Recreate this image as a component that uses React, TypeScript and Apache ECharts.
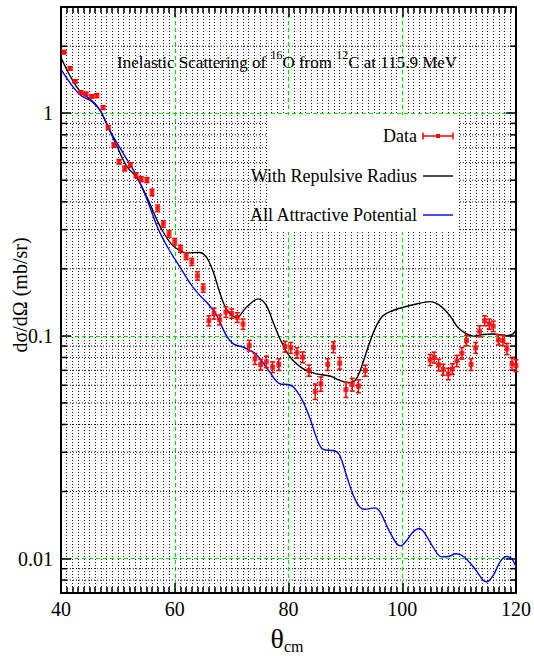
import React, { useEffect, useRef } from "react";
import * as echarts from "echarts";

// Measured cross sections (theta_cm in degrees, dσ/dΩ in mb/sr)
const dataAngle = [40.5, 41.6, 42.5, 43.5, 44.4, 45.4, 46.3, 47.4, 48.3, 49.3, 50.2, 51.2, 52.2, 53.2, 54.1, 55.1, 56.0, 57.0, 58.0, 59.0, 60.0, 61.0, 62.0, 63.0, 64.0, 65.0, 66.0, 66.9, 67.9, 69.0, 70.0, 71.0, 72.0, 73.1, 74.1, 75.1, 76.1, 77.2, 78.3, 79.4, 80.4, 81.5, 82.5, 83.6, 84.7, 85.7, 86.9, 87.9, 89.0, 90.1, 91.2, 92.3, 93.5, 104.9, 105.6, 106.4, 107.2, 108.1, 108.8, 109.6, 110.5, 111.3, 112.1, 112.9, 113.6, 114.5, 115.3, 116.0, 116.9, 117.7, 118.4, 119.3, 120.0];
const dataValue = [1.88, 1.59, 1.39, 1.24, 1.22, 1.19, 1.2, 1.06, 0.863, 0.719, 0.605, 0.565, 0.586, 0.527, 0.506, 0.501, 0.441, 0.374, 0.318, 0.287, 0.265, 0.246, 0.228, 0.215, 0.186, 0.164, 0.117, 0.126, 0.118, 0.128, 0.126, 0.121, 0.113, 0.0905, 0.0789, 0.0744, 0.0765, 0.0724, 0.0744, 0.0895, 0.0884, 0.0839, 0.0802, 0.0699, 0.0563, 0.0609, 0.0744, 0.089, 0.0754, 0.0574, 0.0605, 0.0595, 0.0699, 0.078, 0.08, 0.0741, 0.0706, 0.0675, 0.071, 0.0772, 0.0836, 0.0953, 0.0744, 0.0884, 0.105, 0.117, 0.113, 0.1105, 0.096, 0.0953, 0.0874, 0.0749, 0.0736];
const dataErr = [0.03, 0.025, 0.02, 0.02, 0.02, 0.02, 0.025, 0.02, 0.018, 0.016, 0.014, 0.014, 0.014, 0.013, 0.013, 0.013, 0.015, 0.013, 0.011, 0.01, 0.009, 0.009, 0.008, 0.008, 0.008, 0.007, 0.006, 0.007, 0.006, 0.007, 0.006, 0.006, 0.006, 0.005, 0.0045, 0.004, 0.0045, 0.004, 0.0045, 0.005, 0.005, 0.0045, 0.0045, 0.004, 0.0045, 0.0045, 0.0045, 0.005, 0.0045, 0.0045, 0.004, 0.004, 0.004, 0.0045, 0.0045, 0.0045, 0.004, 0.004, 0.004, 0.0045, 0.005, 0.005, 0.0045, 0.005, 0.006, 0.006, 0.006, 0.006, 0.005, 0.005, 0.005, 0.0045, 0.0045];

// "With Repulsive Radius" calculation
const repAngle = [40, 41.6, 43.3, 45.1, 46.3, 47.4, 48.6, 49.8, 51.5, 53.3, 55.1, 56.8, 58.0, 59.7, 62.1, 64.4, 65.6, 66.8, 67.9, 69.1, 70.9, 72.6, 74.7, 76.1, 77.3, 78.5, 79.7, 80.8, 82.6, 84.9, 87.3, 89.0, 90.5, 91.7, 92.5, 93.7, 95.2, 96.6, 98.4, 100.2, 102.5, 104.9, 106.6, 108.4, 109.8, 111.3, 112.5, 114.2, 116.0, 118.3, 119.2, 120.0];
const repValue = [1.78, 1.47, 1.26, 1.156, 1.079, 0.972, 0.833, 0.714, 0.58, 0.515, 0.42, 0.335, 0.292, 0.254, 0.236, 0.237, 0.225, 0.193, 0.157, 0.132, 0.121, 0.1345, 0.1466, 0.137, 0.115, 0.097, 0.0845, 0.0775, 0.0711, 0.0675, 0.066, 0.0631, 0.0616, 0.0631, 0.0687, 0.0845, 0.1075, 0.123, 0.13, 0.1345, 0.139, 0.1425, 0.137, 0.123, 0.109, 0.102, 0.0997, 0.1014, 0.102, 0.1003, 0.101, 0.1057];

// "All Attractive Potential" calculation
const attAngle = [40, 42.2, 43.6, 45.4, 46.9, 48.3, 49.8, 51.2, 52.1, 53.3, 55.1, 57.1, 58.6, 60.0, 61.5, 63.0, 64.4, 65.9, 67.4, 69.1, 70.3, 72.0, 73.8, 75.0, 76.7, 78.5, 80.2, 81.4, 82.6, 83.8, 85.2, 86.1, 88.2, 89.0, 90.2, 91.4, 92.5, 93.4, 95.2, 96.1, 97.5, 99.0, 99.7, 100.8, 101.9, 103.0, 104.0, 105.4, 106.9, 108.1, 109.5, 110.7, 112.5, 114.2, 114.8, 116.0, 117.2, 118.3, 119.2, 120.0];
const attValue = [1.575, 1.304, 1.196, 1.13, 1.03, 0.862, 0.739, 0.644, 0.591, 0.524, 0.411, 0.302, 0.254, 0.2215, 0.193, 0.168, 0.152, 0.139, 0.123, 0.1, 0.092, 0.089, 0.0845, 0.0789, 0.0687, 0.0609, 0.0603, 0.0568, 0.0504, 0.0424, 0.0334, 0.0309, 0.0304, 0.0291, 0.0236, 0.0192, 0.01706, 0.01664, 0.01688, 0.0162, 0.01363, 0.01168, 0.0114, 0.01208, 0.01317, 0.01363, 0.01294, 0.01128, 0.01017, 0.01021, 0.0105, 0.01024, 0.00918, 0.008, 0.00786, 0.00841, 0.00966, 0.01021, 0.01, 0.00918];

const xMin = 40;
const xMax = 120;
const xStep = 20;
const yMin = 0.007;
const yMax = 3;
const yTickLabels = ["0.01", "0.1", "1"];
const yMinorGrid = [0.008, 0.009, 0.02, 0.03, 0.04, 0.05, 0.06, 0.07, 0.08, 0.09, 0.2, 0.3, 0.4, 0.5, 0.6, 0.7, 0.8, 0.9, 2, 3];

const SERIF = "Liberation Serif";
const GREEN = "#00e000";

export default function App() {
  const ref = useRef<HTMLDivElement>(null);
  useEffect(() => {
    document.body.style.margin = "0";
    const chart = echarts.init(ref.current!, null, { renderer: "svg" });

    const xAxisBase = {
      type: "value",
      min: xMin,
      max: xMax,
      interval: xStep,
      axisLine: { show: true, onZero: false, lineStyle: { color: "#000", width: 2 } },
      axisTick: { show: true, inside: true, length: 10, lineStyle: { color: "#000", width: 1.5 } },
      minorTick: { show: true, splitNumber: 20, length: 6, lineStyle: { color: "#000", width: 1.5 } },
    };
    const yAxisBase = {
      type: "log",
      logBase: 10,
      min: yMin,
      max: yMax,
      axisLine: { show: true, onZero: false, lineStyle: { color: "#000", width: 2 } },
      axisTick: { show: true, inside: true, length: 10, lineStyle: { color: "#000", width: 1.5 } },
    };

    const txt = (text: string, x: number, y: number, size: number, align: string, extra: any = {}) => ({
      type: "text",
      z: 101,
      x,
      y,
      ...extra,
      style: { text, font: `${size}px ${SERIF}`, fill: "#000", align, verticalAlign: "middle" },
    });

    const option: any = {
      animation: false,
      backgroundColor: "#ffffff",
      textStyle: { fontFamily: SERIF },
      grid: { left: 61, top: 7, width: 455, height: 586 },
      xAxis: [
        {
          ...xAxisBase,
          position: "bottom",
          axisLabel: { color: "#000", fontFamily: SERIF, fontSize: 20, margin: 6 },
          splitLine: { show: true, showMinLine: false, showMaxLine: false, lineStyle: { color: GREEN, type: [4, 3], width: 1.2 } },
          minorSplitLine: { show: true, lineStyle: { color: "#000", type: [1, 2], width: 1, opacity: 0.9 } },
        },
        {
          ...xAxisBase,
          position: "top",
          axisLabel: { show: false },
          splitLine: { show: false },
          minorSplitLine: { show: false },
        },
      ],
      yAxis: [
        {
          ...yAxisBase,
          position: "left",
          axisLabel: {
            color: "#000",
            fontFamily: SERIF,
            fontSize: 20,
            margin: 8,
            showMinLabel: false,
            showMaxLabel: false,
            formatter: (v: number) => {
              const s = String(parseFloat(Number(v).toPrecision(6)));
              return yTickLabels.includes(s) ? s : "";
            },
          },
          splitLine: { show: true, showMinLine: false, showMaxLine: false, lineStyle: { color: GREEN, type: [4, 3], width: 1.2 } },
        },
        {
          ...yAxisBase,
          position: "right",
          axisLabel: { show: false },
          splitLine: { show: false },
        },
      ],
      series: [
        {
          type: "custom",
          name: "minorGrid",
          silent: true,
          xAxisIndex: 0,
          yAxisIndex: 0,
          z: 1,
          clip: false,
          data: yMinorGrid.map((v) => [xMin, v]),
          renderItem: (params: any, api: any) => {
            const v = api.value(1);
            const p0 = api.coord([xMin, v]);
            const p1 = api.coord([xMax, v]);
            return {
              type: "group",
              children: [
                { type: "line", shape: { x1: p0[0], y1: p0[1], x2: p1[0], y2: p1[1] }, style: { stroke: "#000", lineWidth: 1, lineDash: [1, 2], opacity: 0.9 } },
                { type: "line", shape: { x1: p0[0], y1: p0[1], x2: p0[0] + 6, y2: p0[1] }, style: { stroke: "#000", lineWidth: 1.5 } },
                { type: "line", shape: { x1: p1[0] - 6, y1: p1[1], x2: p1[0], y2: p1[1] }, style: { stroke: "#000", lineWidth: 1.5 } },
              ],
            };
          },
        },
        {
          type: "line",
          name: "With Repulsive Radius",
          data: repAngle.map((a, i) => [a, repValue[i]]),
          showSymbol: false,
          smooth: 0.35,
          z: 3,
          lineStyle: { color: "#000", width: 1.4 },
          itemStyle: { color: "#000" },
        },
        {
          type: "line",
          name: "All Attractive Potential",
          data: attAngle.map((a, i) => [a, attValue[i]]),
          showSymbol: false,
          smooth: 0.35,
          z: 3,
          lineStyle: { color: "#0000ff", width: 1.4 },
          itemStyle: { color: "#0000ff" },
        },
        {
          type: "custom",
          name: "errors",
          silent: true,
          z: 4,
          encode: { x: 0, y: [1, 2] },
          data: dataAngle.map((a, i) => [a, dataValue[i] - dataErr[i], dataValue[i] + dataErr[i]]),
          renderItem: (params: any, api: any) => {
            const x = api.value(0);
            const lo = api.coord([x, api.value(1)]);
            const hi = api.coord([x, api.value(2)]);
            const c = 2.5;
            const st = { stroke: "#ff0000", lineWidth: 1.5 };
            return {
              type: "group",
              children: [
                { type: "line", shape: { x1: lo[0], y1: lo[1], x2: hi[0], y2: hi[1] }, style: st },
                { type: "line", shape: { x1: lo[0] - c, y1: lo[1], x2: lo[0] + c, y2: lo[1] }, style: st },
                { type: "line", shape: { x1: hi[0] - c, y1: hi[1], x2: hi[0] + c, y2: hi[1] }, style: st },
              ],
            };
          },
        },
        {
          type: "scatter",
          name: "Data",
          symbol: "rect",
          symbolSize: 5,
          z: 5,
          data: dataAngle.map((a, i) => [a, dataValue[i]]),
          itemStyle: { color: "#ff0000" },
        },
      ],
      graphic: [
        {
          type: "rect",
          z: 100,
          shape: { x: 268, y: 115, width: 191, height: 117 },
          style: { fill: "#ffffff" },
        },
        txt("Data", 417, 136, 18, "right"),
        txt("With Repulsive Radius", 417, 176, 18, "right"),
        txt("All Attractive Potential", 417, 215, 18, "right"),
        { type: "line", z: 101, shape: { x1: 423, y1: 136, x2: 453, y2: 136 }, style: { stroke: "#ff0000", lineWidth: 1.5 } },
        { type: "line", z: 101, shape: { x1: 423, y1: 132.5, x2: 423, y2: 139.5 }, style: { stroke: "#ff0000", lineWidth: 1.5 } },
        { type: "line", z: 101, shape: { x1: 453, y1: 132.5, x2: 453, y2: 139.5 }, style: { stroke: "#ff0000", lineWidth: 1.5 } },
        { type: "rect", z: 102, shape: { x: 436, y: 134, width: 4, height: 4 }, style: { fill: "#ff0000" } },
        { type: "line", z: 101, shape: { x1: 423, y1: 176, x2: 453, y2: 176 }, style: { stroke: "#000", lineWidth: 1.4 } },
        { type: "line", z: 101, shape: { x1: 423, y1: 215, x2: 453, y2: 215 }, style: { stroke: "#0000ff", lineWidth: 1.4 } },
        {
          type: "text",
          z: 101,
          x: 117,
          y: 62,
          style: {
            text: "{b|Inelastic Scattering of }{s|16}{b|O from }{s|12}{b|C at 115.9 MeV}",
            font: `17px ${SERIF}`,
            fill: "#000",
            align: "left",
            verticalAlign: "middle",
            rich: {
              b: { fontFamily: SERIF, fontSize: 17, fill: "#000" },
              s: { fontFamily: SERIF, fontSize: 12, lineHeight: 12, padding: [0, 0, 14, 0], fill: "#000" },
            },
          },
        },
        txt("dσ/dΩ (mb/sr)", 20, 295, 20, "center", { rotation: Math.PI / 2 }),
        {
          type: "text",
          z: 101,
          x: 287,
          y: 638,
          style: {
            text: "{t|θ}{c|cm}",
            font: `26px ${SERIF}`,
            fill: "#000",
            align: "center",
            verticalAlign: "middle",
            rich: {
              t: { fontFamily: SERIF, fontSize: 28, fill: "#000" },
              c: { fontFamily: SERIF, fontSize: 16, lineHeight: 16, padding: [16, 0, 0, 0], fill: "#000" },
            },
          },
        },
      ],
    };
    chart.setOption(option);
    return () => chart.dispose();
  }, []);
  return <div ref={ref} style={{ width: 534, height: 656 }} />;
}
